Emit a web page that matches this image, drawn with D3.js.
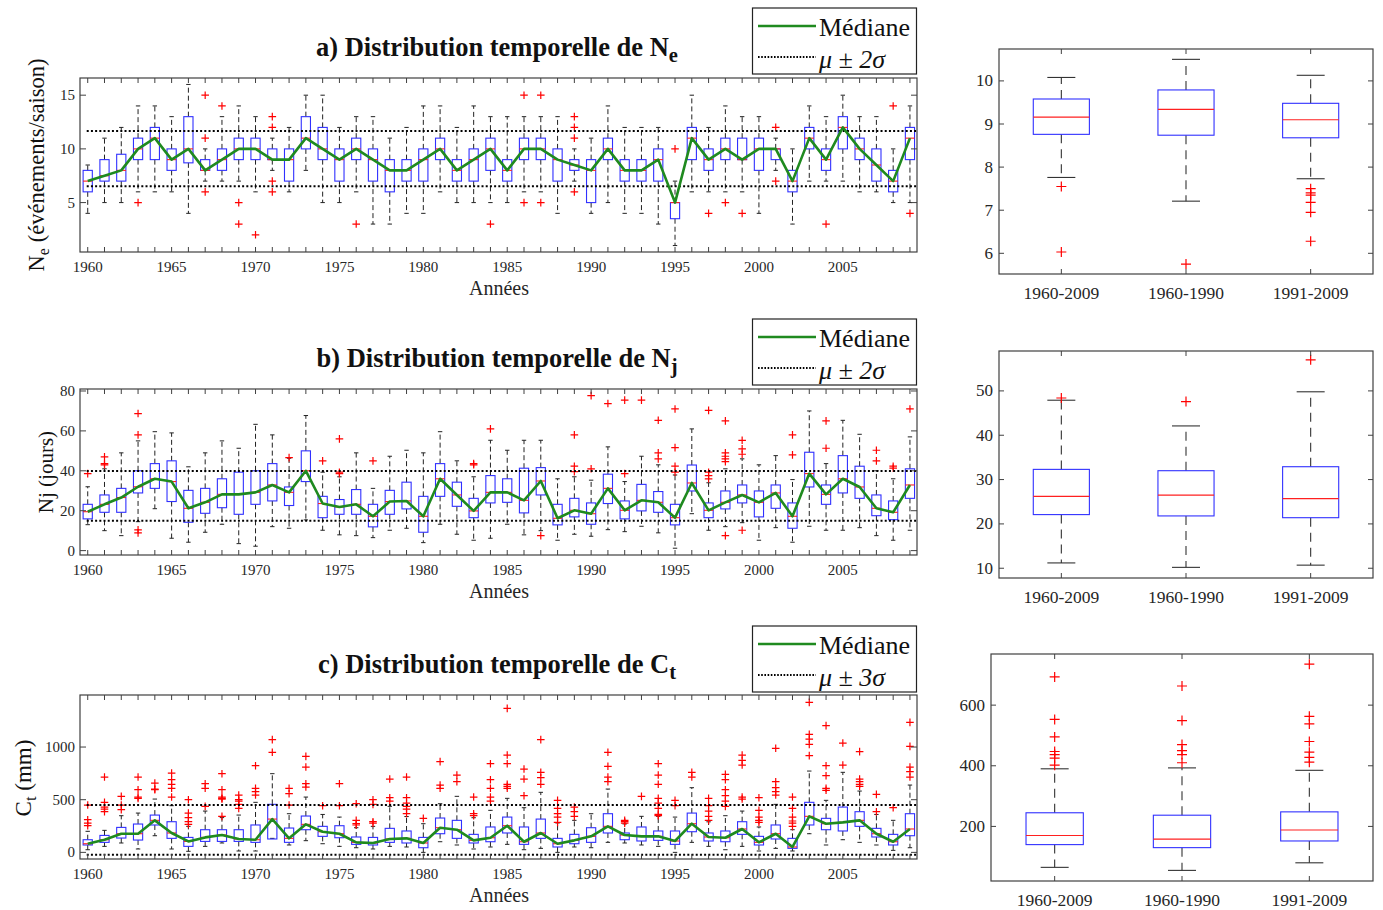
<!DOCTYPE html>
<html><head><meta charset="utf-8">
<script src="https://cdn.jsdelivr.net/npm/d3@7"></script>
<style>body{margin:0;background:#fff} text{font-family:"Liberation Serif","Times New Roman",serif}</style>
</head><body><svg id="c" width="1383" height="910"></svg>
<script>
// ---------------- DATA ----------------
const years = [1960,1961,1962,1963,1964,1965,1966,1967,1968,1969,1970,1971,1972,1973,1974,1975,1976,1977,1978,1979,
 1980,1981,1982,1983,1984,1985,1986,1987,1988,1989,1990,1991,1992,1993,1994,1995,1996,1997,1998,1999,
 2000,2001,2002,2003,2004,2005,2006,2007,2008,2009];
const yearTicks = [1960,1965,1970,1975,1980,1985,1990,1995,2000,2005];
const periods = ["1960-2009","1960-1990","1991-2009"];

// Ne (événements/saison)
const neMed = [7,7.5,8,10,11,9,10,8,9,10,10,9,9,11,10,9,10,9,8,8,9,10,8,9,10, 8,10,10,9,8.5,8,10,8,8,9,5,11,9,10,9,10,10,7,11,9,12,10,8.5,7,11];
const neQ1  = [6,7,7,9,9,8,8.7,8,8,9,9,9,7,10,9,7,9,7,6,7,7,9,7,7,8, 7,9,9,7,8,5,9,7,7,7,3.5,9,8,9,9,8,9,6,10,8,10,9,7,6,9];
const neQ3  = [8,9,9.5,11,12,10,13,9,10,11,11,10,10,13,12,10,11,10,9,9,10,11,9,10,11, 9,11,11,10,9,9,11,9,9,10,5,12,10,11,11,11,10,8,12,10,13,11,10,8,12];
const neHi  = [8.5,11,12,14,14,13,16,10,13,14,13,11,12,15,15,12,13,13,11,12,14,14,12,14,13, 13,13,13,13,10,11,14,12,12,12,7,15,12,14,13,13,11,10,14,13,15,13,13,10,14];
const neLo  = [4,5,5,6,6,6,4,7,7,7,6,8,6,8,5,5,6,3,3,4,4,6,5,5,5, 5,6,6,4,7,4,5,4,4,3,1,6,6,6,6,4,8,3,7,7,7,6,6,5,5];
const neOut = [[1963,[5]],[1967,[15,11,6]],[1968,[14]],[1969,[5,3]],[1970,[2]],[1971,[13,12,7,6]],[1976,[3]],[1984,[3]],
 [1986,[15,5]],[1987,[15,5]],[1989,[13,12,11,6]],[1995,[10]],[1997,[4]],[1998,[5]],[1999,[4]],[2001,[12,7]],[2004,[3]],[2008,[14]],[2009,[4]]];
const neBand = [6.53, 11.67];

// Nj (jours)
const njMed = [19.5,23.2,26.6,32,36,34.6,21.2,24.2,28.2,28.2,29.2,32.9,29.2,40,23.6,21.9,23.2,17.2,24.6,24.9,17.2,36,27.9,19.9,29.2,
 29.2,25.2,34.9,16.2,20.2,18.5,31.2,20.2,25.2,24.2,16.5,33.9,20.2,24.2,27.9,24.2,28.9,17.2,38.6,28.2,36,31.9,21.2,19.2,32.9];
const njQ1 = [15.9,19.2,19.2,28.9,31.2,24.6,14.2,18.7,21.5,18.2,23.2,24.9,22.6,34.6,16.5,18.2,18.2,11.9,18.2,20.9,9.2,27.2,22.2,16.5,23.9,
 24.2,18.9,27.9,12.9,16.9,13.2,23.6,15.9,19.9,19.2,12.9,29.9,16.5,20.9,23.9,16.9,21.2,11.2,31.9,23.2,28.9,26.2,17.5,15.5,26.2];
const njQ3 = [23.2,27.9,31.2,40,43.6,45,30.2,31.2,36,39.3,40,43.6,31.9,50,27.2,25.6,30.6,23.2,30.2,34.3,27.2,43.6,34.3,26.2,37.6,
 36,41.3,41.6,23.2,26.2,23.9,38.3,24.9,33.2,29.6,23.2,42.9,23.9,29.9,32.9,29.9,32.9,23.9,49.3,32.9,47.6,42.3,27.9,24.9,41];
const njHi = [32,41,49,55,59.6,59,42,49,55,51.3,63.3,58,46.3,67.7,39.3,37,49,31.2,47.3,50.3,49,59.6,45,37,55.3,
 50.3,55.3,55.3,36,37,35.3,52,34.6,47.3,43,37.9,61,34,41,46,43,47.6,35.6,70,43.6,65.3,58.3,40,36,57];
const njLo = [13,10,7.5,14.5,21,6.2,4.2,9.2,13.2,3.5,2.2,12,11.2,15.4,10.2,7.9,7.5,6.5,10.2,11.2,4,13.2,8.2,5.2,6.2,
 13.2,7.9,10,5.2,8.2,7.2,10.5,9.5,12.2,8.9,1.2,18.5,10.2,12,14,5.2,11.5,4.2,12.2,10.2,10.2,11.5,7.5,5.2,10.2];
const njOut = [[1960,[38.6]],[1961,[47,43.6,43]],[1963,[68.7,58,10.4,8.9]],[1972,[46.6]],[1974,[45]],[1975,[56,39.3,38.6]],[1977,[45]],
 [1983,[43.6,43]],[1984,[61]],[1987,[7.5]],[1989,[58,42.3,39.6]],[1990,[77.7,41]],[1991,[73.7]],[1992,[75.4,38.6]],[1993,[75.4]],
 [1994,[65.3,49,46]],[1995,[71,51.6,42.3,39.3]],[1997,[70.3,39.3,37.6,36]],[1998,[65,49,47.3,46,44.6,7.5]],[1999,[55.3,51,48.3,10.2]],
 [2002,[58,48]],[2004,[65,51.3]],[2007,[50.3,45]],[2008,[42.3,41.3]],[2009,[71]]];
const njBand = [15, 39.9];

// Ct (mm)
const ctMed = [82,120,177,177,304,184,104,142,165,127,120,316,133,266,196,177,95,89,127,133,89,234,215,114,139,
 253,101,184,82,114,152,247,165,152,152,108,272,146,139,222,95,177,51,342,272,285,304,177,101,222];
const ctQ1 = [70,95,136,117,260,133,57,104,104,104,95,127,95,215,152,139,76,70,95,89,44,177,133,89,101,
 184,76,133,51,82,95,184,120,108,114,76,196,108,101,171,70,127,38,260,215,203,247,146,70,158];
const ctQ3 = [120,161,237,269,354,291,142,215,215,215,260,456,231,345,247,253,146,142,228,203,142,326,304,171,241,
 335,241,316,133,171,234,367,184,241,203,203,373,184,203,291,152,260,133,475,323,430,386,228,171,367];
const ctHi = [200,209,348,373,506,443,247,392,330,354,475,747,367,525,360,335,234,247,437,340,272,462,532,329,399,
 513,424,570,279,304,367,601,270,342,342,335,614,290,348,392,241,456,215,772,494,760,582,360,304,639];
const ctLo = [25,57,89,32,158,32,10,57,89,13,13,133,70,111,82,57,44,32,57,51,0,101,70,32,51,
 76,25,38,0,51,44,95,89,70,57,0,95,57,25,57,13,38,13,177,70,120,95,70,19,44];
const ctOut = [[1960,[449,310,278,253]],[1961,[715,475,430,411,386]],[1962,[532,449,405]],[1963,[715,595,525,513]],[1964,[658,601,595]],
 [1965,[753,690,646,608,525]],[1966,[500,373,329,291,266]],[1967,[652,608,437]],[1968,[747,595,525,513,506,342]],[1969,[544,500,487,456,418]],
 [1970,[823,608,576,544]],[1971,[1070,950]],[1972,[608,557,449]],[1973,[911,810,652,620]],[1974,[443]],[1975,[652,443]],
 [1976,[462,304,272,260]],[1977,[500,456,291,278]],[1978,[696,519,487]],[1979,[715,519,468,437,411,367]],[1980,[323]],
 [1981,[861,639,608]],[1982,[734,671]],[1983,[525,367,348]],[1984,[842,690,608,525,487]],[1985,[1367,924,842,646,627,608]],
 [1986,[791,696,538]],[1987,[1070,760,709,646]],[1988,[494,418,367,335,285]],[1989,[430,386,342]],[1991,[950,817,715,671]],
 [1992,[304,291,278]],[1993,[532]],[1994,[842,734,646,513,468,418,361,348]],[1995,[494,443]],[1996,[760,715]],
 [1997,[513,443,392,342,304]],[1998,[741,690,595,538,487,437]],[1999,[924,873,829,525,506]],[2000,[519,399,335,304,285]],
 [2001,[988,671,614,576,544]],[2002,[525,418,335,298,278,247]],[2003,[1424,1120,1076,1025,918]],[2004,[1203,823,728,608,589]],
 [2005,[1038,829]],[2006,[956,696,671,646,627]],[2007,[551,386]],[2008,[424]],[2009,[1234,1006,810,766,715]]];
const ctBand = [-22, 449];

// Period box plots (q1, median, q3, low whisker, high whisker, outliers)
const neP = {q1:[8.76,8.74,8.68], med:[9.16,9.34,9.1], q3:[9.58,9.79,9.48], lo:[7.76,7.21,7.73], hi:[10.08,10.5,10.13],
 out:[[7.55,6.03],[5.75],[7.5,7.4,7.35,7.18,6.95,6.28]]};
const njP = {q1:[22.1,21.8,21.4], med:[26.2,26.5,25.7], q3:[32.3,32.0,32.9], lo:[11.2,10.2,10.7], hi:[47.9,42.1,49.8],
 out:[[48.4],[47.6],[57]]};
const ctP = {q1:[140,130,152], med:[170,158,188], q3:[245,237,248], lo:[65,55,80], hi:[390,393,385],
 out:[[693,553,495,447,437,425,402],[663,549,470,450,437,410],[735,563,538,480,445,428,412]]};

// ---------------- DRAWING ----------------
const svg = d3.select("#c");
const AX = "#404040", TXT = "#262626";

function plus(g, cx, cy, s, w) {
  g.append("path").attr("d", `M${cx-s},${cy}H${cx+s}M${cx},${cy-s}V${cy+s}`)
   .attr("stroke", "#ff0000").attr("stroke-width", w).attr("fill", "none");
}

function timePanel(P, med, q1, q3, lo, hi, outs, band, yTicks) {
  const g = svg.append("g");
  const x = d3.scaleLinear().domain([1959.54, 2009.42]).range([P.x0, P.x1]);
  const y = d3.scaleLinear().domain(P.yd).range([P.y1, P.y0]);
  const bw = 4.6, cw = 2.2;
  years.forEach((yr, i) => {
    const cx = x(yr);
    g.append("line").attr("x1", cx).attr("x2", cx).attr("y1", y(q3[i])).attr("y2", y(hi[i]))
      .attr("stroke", "#222").attr("stroke-dasharray", "5,3").attr("stroke-width", 1);
    g.append("line").attr("x1", cx).attr("x2", cx).attr("y1", y(q1[i])).attr("y2", y(lo[i]))
      .attr("stroke", "#222").attr("stroke-dasharray", "5,3").attr("stroke-width", 1);
    [hi[i], lo[i]].forEach(v => g.append("line").attr("x1", cx - cw).attr("x2", cx + cw)
      .attr("y1", y(v)).attr("y2", y(v)).attr("stroke", "#222").attr("stroke-width", 1));
    g.append("rect").attr("x", cx - bw).attr("width", 2 * bw).attr("y", y(q3[i]))
      .attr("height", Math.max(0.5, y(q1[i]) - y(q3[i]))).attr("fill", "none")
      .attr("stroke", "#3030ff").attr("stroke-width", 1.1);
    g.append("line").attr("x1", cx - bw).attr("x2", cx + bw).attr("y1", y(med[i])).attr("y2", y(med[i]))
      .attr("stroke", "#ff2020").attr("stroke-width", 1.1);
  });
  outs.forEach(([yr, vals]) => vals.forEach(v => plus(g, x(yr), y(v), 3.8, 1.2)));
  band.forEach(v => g.append("line").attr("x1", x(1960) - 1).attr("x2", P.x1).attr("y1", y(v)).attr("y2", y(v))
    .attr("stroke", "#000").attr("stroke-width", 2).attr("stroke-dasharray", "2,2.2"));
  g.append("path").datum(years.map((yr, i) => [yr, med[i]]))
    .attr("d", d3.line().x(d => x(d[0])).y(d => y(d[1])))
    .attr("fill", "none").attr("stroke", "#1f8a1f").attr("stroke-width", 2.6).attr("stroke-linejoin", "round");
  g.append("rect").attr("x", P.x0).attr("y", P.y0).attr("width", P.x1 - P.x0).attr("height", P.y1 - P.y0)
    .attr("fill", "none").attr("stroke", AX).attr("stroke-width", 1.2);
  years.forEach(yr => {
    g.append("line").attr("x1", x(yr)).attr("x2", x(yr)).attr("y1", P.y0).attr("y2", P.y0 + 5).attr("stroke", AX);
    g.append("line").attr("x1", x(yr)).attr("x2", x(yr)).attr("y1", P.y1).attr("y2", P.y1 - 5).attr("stroke", AX);
  });
  yTicks.forEach(v => {
    g.append("line").attr("x1", P.x0).attr("x2", P.x0 + 6).attr("y1", y(v)).attr("y2", y(v)).attr("stroke", AX);
    g.append("line").attr("x1", P.x1).attr("x2", P.x1 - 6).attr("y1", y(v)).attr("y2", y(v)).attr("stroke", AX);
    g.append("text").attr("x", P.x0 - 5).attr("y", y(v) + 5).attr("text-anchor", "end")
      .attr("font-size", 15).attr("fill", TXT).text(v);
  });
  yearTicks.forEach(yr => g.append("text").attr("x", x(yr)).attr("y", P.y1 + 20).attr("text-anchor", "middle")
    .attr("font-size", 15).attr("fill", TXT).text(yr));
  g.append("text").attr("x", 499).attr("y", P.y1 + 43).attr("text-anchor", "middle")
    .attr("font-size", 20).attr("fill", TXT).text("Années");
  const t = g.append("text").attr("x", 497).attr("y", P.y0 - 22).attr("text-anchor", "middle")
    .attr("font-size", 26.5).attr("font-weight", "bold").attr("fill", "#111");
  t.append("tspan").text(P.title);
  t.append("tspan").attr("baseline-shift", "-30%").attr("font-size", 20.5).text(P.sub);
  const lg = g.append("g");
  lg.append("rect").attr("x", 752.5).attr("y", P.ly).attr("width", 164).attr("height", 66)
    .attr("fill", "#fff").attr("stroke", "#222").attr("stroke-width", 1.2);
  lg.append("line").attr("x1", 758).attr("x2", 816).attr("y1", P.ly + 18).attr("y2", P.ly + 18)
    .attr("stroke", "#1f8a1f").attr("stroke-width", 2.6);
  lg.append("line").attr("x1", 758).attr("x2", 816).attr("y1", P.ly + 49).attr("y2", P.ly + 49)
    .attr("stroke", "#000").attr("stroke-width", 1.8).attr("stroke-dasharray", "1.6,1.6");
  lg.append("text").attr("x", 819).attr("y", P.ly + 28).attr("font-size", 26).attr("fill", "#111").text("Médiane");
  lg.append("text").attr("x", 819).attr("y", P.ly + 60).attr("font-size", 26).attr("fill", "#111")
    .attr("font-style", "italic").text("μ ± " + P.k + "σ");
  const yl = g.append("text").attr("transform", `translate(${P.ylx},${P.yly}) rotate(-90)`)
    .attr("text-anchor", "middle").attr("font-size", P.ylfs).attr("fill", "#111");
  yl.append("tspan").text(P.ylab);
  if (P.ylsub) { yl.append("tspan").attr("baseline-shift", "-30%").attr("font-size", P.ylfs * 0.72).text(P.ylsub);
                 yl.append("tspan").attr("baseline-shift", "0").text(P.ylrest); }
}

function periodPanel(P, S, yTicks) {
  const g = svg.append("g");
  const x = d3.scaleLinear().domain([0.5, 3.5]).range([P.x0, P.x1]);
  const y = d3.scaleLinear().domain(P.yd).range([P.y1, P.y0]);
  const bw = 0.225 * (x(2) - x(1)), cw = 14;
  periods.forEach((p, i) => {
    const cx = x(i + 1);
    g.append("line").attr("x1", cx).attr("x2", cx).attr("y1", y(S.q3[i])).attr("y2", y(S.hi[i]))
      .attr("stroke", "#333").attr("stroke-dasharray", "9,6").attr("stroke-width", 1.1);
    g.append("line").attr("x1", cx).attr("x2", cx).attr("y1", y(S.q1[i])).attr("y2", y(S.lo[i]))
      .attr("stroke", "#333").attr("stroke-dasharray", "9,6").attr("stroke-width", 1.1);
    [S.hi[i], S.lo[i]].forEach(v => g.append("line").attr("x1", cx - cw).attr("x2", cx + cw)
      .attr("y1", y(v)).attr("y2", y(v)).attr("stroke", "#333").attr("stroke-width", 1.1));
    g.append("rect").attr("x", cx - bw).attr("width", 2 * bw).attr("y", y(S.q3[i]))
      .attr("height", y(S.q1[i]) - y(S.q3[i])).attr("fill", "none").attr("stroke", "#3030ff").attr("stroke-width", 1.1);
    g.append("line").attr("x1", cx - bw).attr("x2", cx + bw).attr("y1", y(S.med[i])).attr("y2", y(S.med[i]))
      .attr("stroke", "#ff2020").attr("stroke-width", 1.1);
    S.out[i].forEach(v => plus(g, cx, y(v), 5, 1.2));
    g.append("line").attr("x1", cx).attr("x2", cx).attr("y1", P.y0).attr("y2", P.y0 + 5).attr("stroke", AX);
    g.append("line").attr("x1", cx).attr("x2", cx).attr("y1", P.y1).attr("y2", P.y1 - 5).attr("stroke", AX);
    g.append("text").attr("x", cx).attr("y", P.y1 + 25).attr("text-anchor", "middle")
      .attr("font-size", 17.5).attr("fill", TXT).text(p);
  });
  g.append("rect").attr("x", P.x0).attr("y", P.y0).attr("width", P.x1 - P.x0).attr("height", P.y1 - P.y0)
    .attr("fill", "none").attr("stroke", AX).attr("stroke-width", 1.2);
  yTicks.forEach(v => {
    g.append("line").attr("x1", P.x0).attr("x2", P.x0 + 5).attr("y1", y(v)).attr("y2", y(v)).attr("stroke", AX);
    g.append("line").attr("x1", P.x1).attr("x2", P.x1 - 5).attr("y1", y(v)).attr("y2", y(v)).attr("stroke", AX);
    g.append("text").attr("x", P.x0 - 6).attr("y", y(v) + 5.5).attr("text-anchor", "end")
      .attr("font-size", 17).attr("fill", TXT).text(v);
  });
}

timePanel({x0:80, x1:917, y0:78, y1:252, yd:[0.4,16.6], title:"a) Distribution temporelle de N", sub:"e", ly:8, k:2,
  ylx:44, yly:165, ylfs:22.5, ylab:"N", ylsub:"e", ylrest:" (événements/saison)"},
  neMed, neQ1, neQ3, neLo, neHi, neOut, neBand, [5,10,15]);
timePanel({x0:80, x1:917, y0:389, y1:555, yd:[-2.2,81], title:"b) Distribution temporelle de N", sub:"j", ly:319, k:2,
  ylx:53, yly:472, ylfs:21, ylab:"Nj (jours)"},
  njMed, njQ1, njQ3, njLo, njHi, njOut, njBand, [0,20,40,60,80]);
timePanel({x0:80, x1:917, y0:695, y1:859, yd:[-63,1494], title:"c) Distribution temporelle de C", sub:"t", ly:626, k:3,
  ylx:31, yly:778, ylfs:23, ylab:"C", ylsub:"t", ylrest:" (mm)"},
  ctMed, ctQ1, ctQ3, ctLo, ctHi, ctOut, ctBand, [0,500,1000]);

periodPanel({x0:999, x1:1373, y0:49, y1:274, yd:[5.52,10.74]}, neP, [6,7,8,9,10]);
periodPanel({x0:999, x1:1373, y0:351, y1:578, yd:[7.8,59]}, njP, [10,20,30,40,50]);
periodPanel({x0:991, x1:1373, y0:654, y1:881, yd:[20,768.6]}, ctP, [200,400,600]);
</script></body></html>
